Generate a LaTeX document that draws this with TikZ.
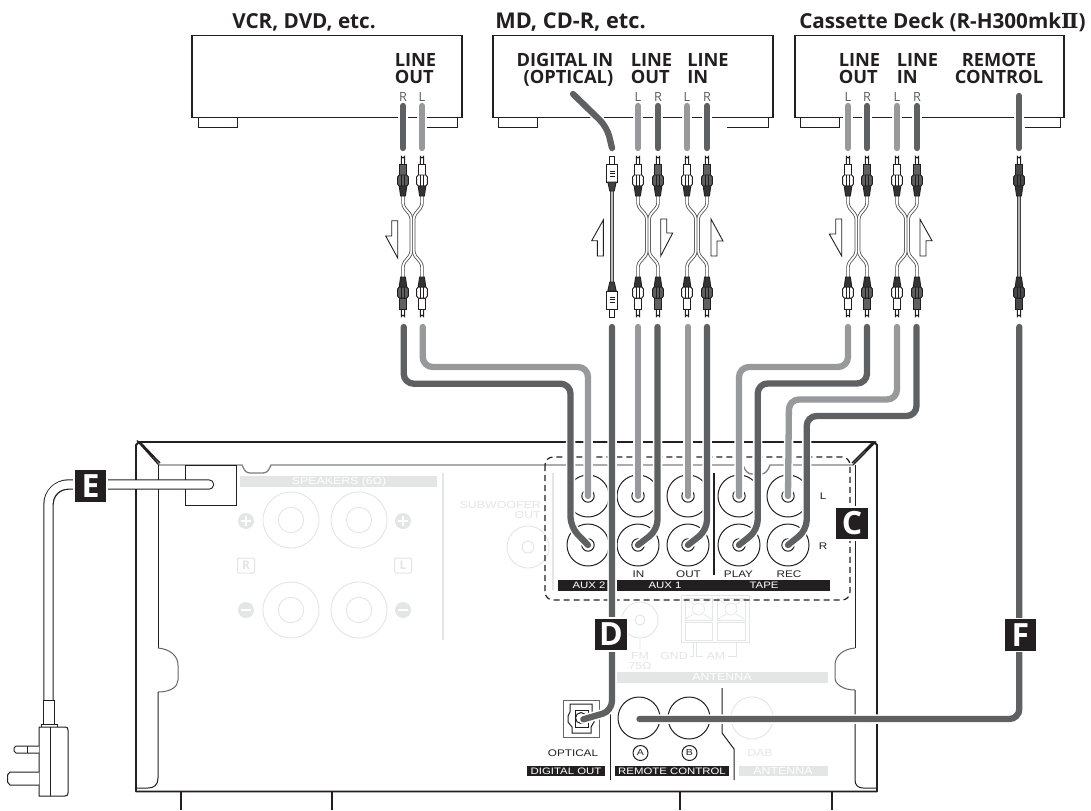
\documentclass[tikz,border=0pt]{standalone}
\usepackage{fontspec}
\setmainfont{Open Sans}
\newfontfamily\widefont[FakeStretch=1.22]{Liberation Sans}
\newfontfamily\romanfont{DejaVu Serif}
\usetikzlibrary{calc}
\definecolor{cdark}{HTML}{5F6062}
\definecolor{clight}{HTML}{98999B}
\definecolor{faint}{HTML}{E4E5E5}
\definecolor{ink}{HTML}{231F20}
\tikzset{
 px/.style={line width=#1*0.75pt},
 cableD/.style={px=6.3,draw=cdark,line cap=round,rounded corners=7.5pt},
 cableL/.style={px=6.3,draw=clight,line cap=round,rounded corners=7.5pt},
 halo/.style={px=9.5,draw=white,line cap=round,rounded corners=7.5pt},
 title/.style={anchor=base west,inner sep=0,font=\fontsize{#1}{17}\selectfont\bfseries,text=ink},
 portlabel/.style={anchor=base west,inner sep=0,align=left,font=\fontsize{13.7}{12.5}\selectfont\bfseries,text=ink},
 chan/.style={inner sep=0,font=\fontsize{9.5}{10}\selectfont,text=black!65},
 small/.style={inner sep=0,font=\fontsize{7.2}{7.5}\widefont,text=ink},
 barlabel/.style={inner sep=0,font=\fontsize{7}{7.5}\widefont,text=white},
 fainttxt/.style={inner sep=0,font=\fontsize{7.6}{8}\widefont,text=faint,align=center},
 blackbar/.style={fill=ink,draw=none},
 letterbox/.style={fill=ink,draw=white,px=1.5,minimum size=33*0.75pt,inner sep=0,text=white,font=\fontsize{24}{24}\selectfont\bfseries},
 thinline/.style={px=1,draw=ink},
 heavy/.style={px=1.9,draw=ink},
 faintline/.style={px=0.9,draw=faint},
 faintfine/.style={px=0.7,draw=faint},
 arrowline/.style={px=0.9,draw=ink,fill=white},
 plugline/.style={px=0.9,draw=ink},
}
% plug: x, tip y, direction (1 tip on top, -1 tip at bottom), body colour
\newcommand{\rcaplug}[4]{%
 \begin{scope}[shift={(#1,#2)},yscale=#3]
  \draw[plugline,fill=white] (-1.6,10) -- (-1.6,1.5) arc[start angle=180,end angle=0,radius=1.6] -- (1.6,10) -- cycle;
  \draw[plugline,fill=#4] (-3.8,9) -- (3.8,9) -- (3.8,20) -- (-3.8,20) -- cycle;
  \draw[plugline,fill=#4] (-3.8,20) -- (-5.4,22) -- (-5.4,29) -- (-3.8,31) -- (3.8,31) -- (5.4,29) -- (5.4,22) -- (3.8,20) -- cycle;
  \draw[plugline] (-1.8,20) -- (-1.8,31) (1.8,20) -- (1.8,31);
  \draw[plugline,fill=black!80] (-3.8,31) -- (-2.4,41) -- (2.4,41) -- (3.8,31) -- cycle;
 \end{scope}}
\newcommand{\optplug}[3]{%
 \begin{scope}[shift={(#1,#2)},yscale=#3]
  \draw[plugline,fill=white] (-2.4,10) -- (-2.4,1) -- (2.4,1) -- (2.4,10) -- cycle;
  \draw[plugline,fill=white] (-5.2,9) -- (5.2,9) -- (5.2,27) -- (-5.2,27) -- cycle;
  \draw[plugline] (-2.5,16) -- (2.5,16) (-2.5,18.5) -- (2.5,18.5) (-2.5,21) -- (2.5,21);
  \draw[plugline,fill=black!75] (-4.2,27) -- (-2.2,36) -- (2.2,36) -- (4.2,27) -- cycle;
 \end{scope}}
% twin lead between the two plugs of a stereo pair: x left, x right
\newcommand{\twinlead}[2]{%
 \pgfmathsetmacro{\cxa}{(#1+#2)/2-1.2}\pgfmathsetmacro{\cxb}{(#1+#2)/2+1.2}%
 \foreach \wa/\wc in {3.4/black!70,1.8/white}{
  \draw[px=\wa,draw=\wc,rounded corners=2.2pt] (#1,196) -- (#1,206) -- (\cxa,216) -- (\cxa,254) -- (#1,264) -- (#1,278);
  \draw[px=\wa,draw=\wc,rounded corners=2.2pt] (#2,196) -- (#2,206) -- (\cxb,216) -- (\cxb,254) -- (#2,264) -- (#2,278);
 }}
\newcommand{\stereopair}[4]{% xleft, xright, left colour, right colour
 \twinlead{#1}{#2}
 \rcaplug{#1}{155}{1}{#3}\rcaplug{#2}{155}{1}{#4}
 \rcaplug{#1}{318}{-1}{#3}\rcaplug{#2}{318}{-1}{#4}}
\newcommand{\cable}[2]{\draw[halo] #2; \draw[#1] #2;}
\begin{document}
\begin{tikzpicture}[x=0.75pt,y=-0.75pt]
\useasboundingbox (0,0) rectangle (1091,810);
\fill[white] (0,0) rectangle (1091,810);

%% faint panel printing
\fill[faint] (240,476) rectangle (437,487);
\node[fainttxt,text=white] (spk) at (339,481.5) {SPEAKERS (6Ω)};
\foreach \n/\cx/\cy in {a/291/520,b/359/520,c/291/610,d/359/610}{
 \draw[faintline] (\cx,\cy) circle[radius=28] (\cx,\cy) circle[radius=12.7];}
\foreach \n/\cx/\cy/\s in {p1/246/521/+,p2/403/521/+,m1/246/610/-,m2/403/610/-}{
 \fill[faint] (\cx,\cy) circle[radius=8];
 \draw[white,px=2.4] (\cx-4.6,\cy) -- (\cx+4.6,\cy);
 \if\s+\draw[white,px=2.4] (\cx,\cy-4.6) -- (\cx,\cy+4.6);\fi}
\node[draw=faint,px=1,minimum width=17*0.75pt,minimum height=15*0.75pt,inner sep=0,rounded corners=1pt,text=faint,font=\fontsize{9}{9}\selectfont\bfseries] (rbox) at (246,565.5) {R};
\node[draw=faint,px=1,minimum width=17*0.75pt,minimum height=15*0.75pt,inner sep=0,rounded corners=1pt,text=faint,font=\fontsize{9}{9}\selectfont\bfseries] (lbox) at (403,565.5) {L};
\draw[faint,px=1.6] (443,473) -- (443,640);
\draw[faint,px=1.6] (553,473) -- (553,590);
\node[fainttxt,anchor=east,align=right] (sub) at (541,510) {SUBWOOFER\\OUT};
\draw[faintline] (528,547) circle[radius=21] (528,547) circle[radius=6];
\draw[faintline] (640,620) circle[radius=18] (640,620) circle[radius=5] (640,638) -- (640,649);
\node[fainttxt] (fm) at (640,661) {FM\\75Ω};
\node[fainttxt] (gnd) at (674,656) {GND};
\node[fainttxt] (am) at (716,656) {AM};
\draw[faintfine] (681,595) rectangle (749,642);
\draw[faintfine] (685,598) rectangle (712,620) (685,622) rectangle (712,640);
\draw[faintfine] (717,598) rectangle (745,620) (717,622) rectangle (745,640);
\foreach \cx in {698.5,731}{
 \draw[faintfine] (\cx,609) circle[radius=6];
 \draw[faintfine] (\cx-13,599) -- (\cx-5,604) (\cx+13,599) -- (\cx+5,604) (\cx-13,619) -- (\cx-5,614) (\cx+13,619) -- (\cx+5,614);}
\draw[faintfine] (693,642) -- (693,656) -- (690,656) (696,642) -- (696,656) -- (703,656) (736,642) -- (736,656) -- (728,656);
\fill[faint] (617,672) rectangle (828,683);
\node[fainttxt,text=white] (ant) at (722,677.5) {ANTENNA};
\draw[faintline] (752,718) circle[radius=21];
\node[fainttxt] (dab) at (760,753) {DAB};
\fill[faint] (739,766) rectangle (828,776);
\node[fainttxt,text=white] (ant2) at (783,771) {ANTENNA};

%% chassis
\draw[heavy,line join=round] (136,791.5) -- (136,445) -- (139,442) -- (874,442) -- (877,445) -- (877,791.5) -- cycle;
\draw[px=1.4,draw=ink] (137,440.5) -- (159,465) (140,442) -- (160,463);
\draw[px=1.4,draw=ink] (876,441.5) -- (853,465) (873,442) -- (852,463);
\draw[px=1.3,draw=black!50] (158,465) -- (242,465) .. controls (244,470) and (246,473) .. (250,473) -- (263,473) .. controls (267,473) and (269,470) .. (271,465) -- (743,465) .. controls (745,471) and (748,474) .. (752,474) -- (761,474) .. controls (765,474) and (768,471) .. (770,465) -- (853,465);
\draw[thinline] (158,465) -- (158,648);
\draw[px=1,draw=black!60] (158,648) .. controls (170,649) and (178,656) .. (178,665) -- (178,680) .. controls (178,687) and (170,692) .. (158,692);
\draw[thinline] (158,692) -- (158,778) .. controls (158,785) and (154,788) .. (148,788) -- (137,788);
\draw[thinline] (855,465) -- (855,648);
\draw[px=1,draw=black!60] (855,648) .. controls (843,649) and (835,656) .. (835,665) -- (835,678) .. controls (835,684) and (843,690) .. (855,690);
\draw[thinline] (855,690) -- (855,780) .. controls (855,785) and (858,788) .. (863,788) -- (877,788);
\draw[heavy] (181,791.5) -- (181,810) (332,791.5) -- (332,810) (680,791.5) -- (680,810) (832,791.5) -- (832,810);
\draw[thinline] (185,465) rectangle (236,505);

%% jacks
\foreach \nm/\jx in {aux/588,inn/638,out/688,pla/739,rec/788}{
 \coordinate (j\nm L) at (\jx,496);
 \coordinate (j\nm R) at (\jx,545);
 \draw[thinline] (\jx,496) circle[radius=21] (\jx,496) circle[radius=6.2];
 \draw[thinline] (\jx,545) circle[radius=21] (\jx,545) circle[radius=6.2];
}
\node[small] (lin) at (638.5,574.5) {IN};
\node[small] (lout) at (688.5,574.5) {OUT};
\node[small] (lplay) at (738.5,574.5) {PLAY};
\node[small] (lrec) at (789,574.5) {REC};
\node[small] (chL) at (823,496) {L};
\node[small] (chR) at (823,546) {R};
\fill[blackbar] (558,580) rectangle (608,591);
\fill[blackbar] (617,580) rectangle (830,591);
\node[barlabel] (baux2) at (589,585.5) {AUX 2};
\node[barlabel] (baux1) at (665,585.5) {AUX 1};
\node[barlabel] (btape) at (764,585.5) {TAPE};
\draw[px=1.5,draw=ink] (714,473) -- (714,575);
\draw[px=1.2,draw=ink,dash pattern=on 4.5pt off 3pt,rounded corners=6pt] (545,457) rectangle (850,600);

%% optical jack, remote jacks
\draw[px=1,draw=black!60] (563,700) rectangle (599,737);
\draw[thinline] (570,704) -- (592,704) -- (592,714) -- (594,718) -- (594,722) -- (591,727) -- (591,733) -- (572,733) -- (572,727) -- (568,722) -- (568,716) -- (570,712) -- cycle;
\draw[thinline] (575,710) rectangle (588,727);
\draw[thinline] (581,718) circle[radius=5.5];
\coordinate (jopt) at (583.3,719.3);
\draw[thinline] (639,718) circle[radius=21] (689,718) circle[radius=21];
\coordinate (jremA) at (639.5,719);
\node[small] (lopt) at (573,753) {OPTICAL};
\node[small,draw=ink,circle,px=1,minimum size=15*0.75pt,font=\fontsize{6.5}{7}\widefont] (la) at (640.5,753) {A};
\node[small,draw=ink,circle,px=1,minimum size=15*0.75pt,font=\fontsize{6.5}{7}\widefont] (lb) at (689.5,753) {B};
\fill[blackbar] (527,766) rectangle (605,776);
\fill[blackbar] (615,766) rectangle (729,776);
\node[barlabel] (bdig) at (566,771) {DIGITAL OUT};
\node[barlabel] (brem) at (672,771) {REMOTE CONTROL};
\draw[thinline] (610,710) -- (610,780);
\draw[thinline] (722,688) -- (722,733) -- (734,749) -- (734,780);

%% external units
\foreach \nm/\xa/\xb in {vcr/192/462,md/493/773,deck/795/1064}{
 \draw[px=1.5,draw=ink] (\xa,35.5) rectangle (\xb,117.5);
 \coordinate (\nm) at (\xa,35.5);
}
\draw[thinline] (198,117.5) -- (198,127.5) -- (237,127.5) -- (237,117.5);
\draw[thinline] (427,127.5) -- (457,127.5) -- (457,117.5);
\draw[thinline] (498,117.5) -- (498,127.5) -- (537,127.5) -- (537,117.5);
\draw[thinline] (727,127.5) -- (768,127.5) -- (768,117.5);
\draw[thinline] (800,117.5) -- (800,127.5) -- (839,127.5) -- (839,117.5);
\draw[thinline] (1025,127.5) -- (1060,127.5) -- (1060,117.5);

\node[title=15.5] (t1) at (232,28) {VCR, DVD, etc.};
\node[title=16.3] (t2) at (495,28) {MD, CD-R, etc.};
\node[title=15.5] (t3) at (799,28) {Cassette Deck (R-H300mk{\romanfont Ⅱ})};
\node[portlabel] (p1) at (394.5,83.3) {LINE\\OUT};
\node[portlabel,align=right,anchor=base east] (p2) at (613.5,83.3) {DIGITAL IN\\(OPTICAL)};
\node[portlabel] (p3) at (630.5,83.3) {LINE\\OUT};
\node[portlabel] (p4) at (687,83.3) {LINE\\IN};
\node[portlabel] (p5) at (838.5,83.3) {LINE\\OUT};
\node[portlabel] (p6) at (896.5,83.3) {LINE\\IN};
\node[portlabel,align=center,anchor=base] (p7) at (999,83.3) {REMOTE\\CONTROL};
\foreach \nm/\cx/\s in {a/403/R,b/422/L,c/638/L,d/658/R,e/687/L,f/707/R,g/848/L,h/867/R,i/897/L,j/917/R}{
 \node[chan] (ch\nm) at (\cx,97) {\s};}

%% short cable stubs at the units
\foreach \cx/\st in {403/cableD,422/cableL,638/cableL,658/cableD,687/cableL,707/cableD,848/cableL,867/cableD,897/cableL,917/cableD}{
 \coordinate (st) at (\cx,106);
 \coordinate (sb) at (\cx,148);
 \cable{\st}{(st) -- (sb)}
}
\coordinate (optA) at (573,94);
\coordinate (optB) at (612,148);
\cable{cableD}{(optA) -- (607,127) -- (optB)}
\coordinate (remA) at (1019,96);
\coordinate (remB) at (1019,148);
\cable{cableD}{(remA) -- (remB)}

%% leads and plugs
\stereopair{403}{422}{cdark}{white}
\stereopair{638}{658}{white}{cdark}
\stereopair{687}{707}{white}{cdark}
\stereopair{848}{867}{white}{cdark}
\stereopair{897}{917}{white}{cdark}
\draw[px=3.4,draw=black!75] (612,190) -- (612,283);
\draw[px=1.7,draw=black!25] (612,190) -- (612,283);
\optplug{612}{155}{1}\optplug{612}{318}{-1}
\draw[px=3.4,draw=black!75] (1019,196) -- (1019,278);
\draw[px=1.7,draw=black!30] (1019,196) -- (1019,278);
\rcaplug{1019}{155}{1}{cdark!75!black}\rcaplug{1019}{318}{-1}{cdark!75!black}

%% half arrows
\draw[arrowline] (391.7,220.7) -- (397.7,220.7) -- (397.7,258) -- (385.7,236) -- (391.7,236) -- cycle;
\draw[arrowline] (603.3,220) -- (591.7,240.7) -- (597.3,240.7) -- (597.3,256) -- (603.3,256) -- cycle;
\draw[arrowline] (660.7,219) -- (666.7,219) -- (666.7,233) -- (672.7,233) -- (660.7,256) -- cycle;
\draw[arrowline] (711,219) -- (723,241) -- (717,241) -- (717,256) -- (711,256) -- cycle;
\draw[arrowline] (835.7,219) -- (841.7,219) -- (841.7,256) -- (829.3,234) -- (835.7,234) -- cycle;
\draw[arrowline] (920,219.3) -- (932,240.7) -- (926,240.7) -- (926,256) -- (920,256) -- cycle;

%% long cables
\foreach \nm/\cx in {a/403.7,b/422.7,d/612,e/638,f/657.5,g/688,h/707,i/848,k/867,l/897,m/916.5,n/1019.3}{
 \coordinate (s\nm) at (\cx,327);}
\cable{cableL}{(sb) -- (422.7,367) -- (588,367) -- (jauxL)}
\cable{cableD}{(sa) -- (403.7,383.7) -- (570.5,383.7) -- (570.5,527) -- (jauxR)}
\cable{cableL}{(se) -- (jinnL)}
\cable{cableD}{(sf) -- (657.5,530) -- (jinnR)}
\cable{cableL}{(sg) -- (joutL)}
\cable{cableD}{(sh) -- (707,530) -- (joutR)}
\cable{cableL}{(si) -- (848,367) -- (739,367) -- (jplaL)}
\cable{cableD}{(sk) -- (867,383.5) -- (757.7,383.5) -- (757.7,530) -- (jplaR)}
\cable{cableL}{(sl) -- (897,399.5) -- (789,399.5) -- (jrecL)}
\cable{cableD}{(sm) -- (916.5,416) -- (806.7,416) -- (806.7,530) -- (jrecR)}
\cable{cableD}{(sd) -- (612,711) -- (jopt)}
\cable{cableD}{(sn) -- (1019.3,719) -- (jremA)}

%% mains lead
\coordinate (mainA) at (209,484.5);
\coordinate (mainB) at (48.5,700);
\draw[px=10.4,draw=ink,line cap=round,rounded corners=15pt] (mainA) -- (48.5,484.5) -- (mainB);
\draw[px=8.2,draw=white,line cap=round,rounded corners=14.5pt] (mainA) -- (48.5,484.5) -- (mainB);
\draw[thinline,fill=white] (43,700) rectangle (54,724);
\draw[thinline,fill=white] (41,724) rectangle (57,727);
\draw[thinline,fill=white] (39,727) -- (65,727) .. controls (67,727) and (68,728) .. (68,730) -- (68,793) .. controls (68,795) and (67,796) .. (65,796) -- (39,796) -- cycle;
\draw[thinline] (50,727) -- (50,796);
\draw[thinline,fill=white] (39,746) -- (16,746) -- (14,748) -- (14,751) -- (16,753) -- (39,753);
\draw[thinline] (27,746) -- (27,753);
\draw[thinline,fill=white] (39,772) -- (10,772) -- (7.5,775) -- (7.5,782) -- (10,785) -- (39,785);

%% letter tags
\node[letterbox] (tagC) at (852,523.5) {C};
\node[letterbox] (tagD) at (611,634.5) {D};
\node[letterbox] (tagE) at (90.5,486) {E};
\node[letterbox] (tagF) at (1020.5,635) {F};
\end{tikzpicture}
\end{document}
